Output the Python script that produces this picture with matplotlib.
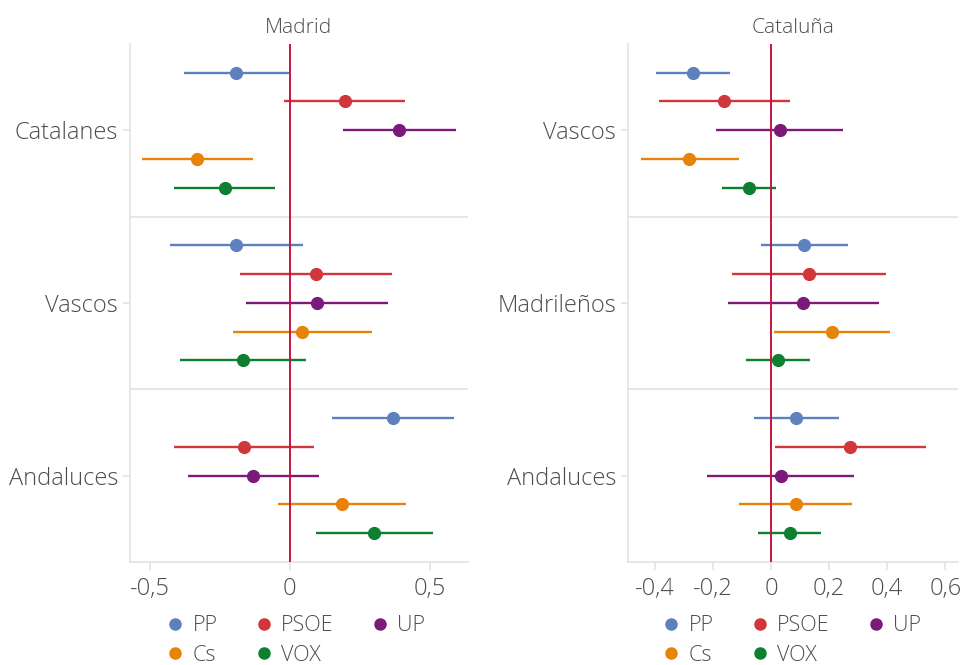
import numpy as np
import matplotlib.pyplot as plt
from matplotlib.lines import Line2D

plt.rcParams['font.family'] = ['Open Sans', 'DejaVu Sans']
plt.rcParams['font.weight'] = 'light'

parties = ['PP', 'PSOE', 'UP', 'Cs', 'VOX']
colors = ['#5f80bf', '#d0363a', '#7b1a7b', '#e8830a', '#0e7f30']

# Madrid panel: groups top to bottom
mad_groups = ['Catalanes', 'Vascos', 'Andaluces']
mad_est = [[-0.192, 0.196, 0.390, -0.331, -0.233],
           [-0.192, 0.093, 0.098, 0.044, -0.168],
           [0.369, -0.163, -0.131, 0.186, 0.302]]
mad_lo = [[-0.379, -0.020, 0.188, -0.527, -0.413],
          [-0.427, -0.179, -0.156, -0.202, -0.393],
          [0.151, -0.412, -0.363, -0.044, 0.094]]
mad_hi = [[-0.002, 0.412, 0.592, -0.131, -0.054],
          [0.046, 0.364, 0.351, 0.294, 0.058],
          [0.587, 0.087, 0.105, 0.414, 0.510]]

# Cataluña panel
cat_groups = ['Vascos', 'Madrileños', 'Andaluces']
cat_est = [[-0.270, -0.161, 0.030, -0.283, -0.077],
           [0.113, 0.130, 0.111, 0.209, 0.023],
           [0.087, 0.272, 0.033, 0.085, 0.064]]
cat_lo = [[-0.396, -0.387, -0.189, -0.449, -0.169],
          [-0.035, -0.136, -0.147, 0.010, -0.087],
          [-0.060, 0.014, -0.219, -0.109, -0.045]]
cat_hi = [[-0.142, 0.064, 0.247, -0.112, 0.017],
          [0.265, 0.396, 0.371, 0.409, 0.135],
          [0.233, 0.532, 0.287, 0.280, 0.173]]

text_col = '#4d4d4d'
grid_col = '#e3e3e3'


def draw_panel(ax, title, groups, est, lo, hi, xlim, xticks, xticklabels):
    for g in range(len(groups)):
        center = 6 * g + 3
        for i, p in enumerate(parties):
            y = center + (i - 2)
            ax.plot([lo[g][i], hi[g][i]], [y, y], color=colors[i], lw=1.7,
                    solid_capstyle='butt', zorder=2)
            ax.plot(est[g][i], y, 'o', color=colors[i], ms=8.5, zorder=3)
    for s in [6, 12]:
        ax.axhline(s, color=grid_col, lw=1.2, zorder=0)
    ax.axvline(0, color='#c8143f', lw=1.4, zorder=4)

    ax.set_ylim(18, 0)
    ax.set_xlim(*xlim)
    ax.set_yticks([6 * g + 3 for g in range(len(groups))])
    ax.set_yticklabels(groups)
    ax.set_xticks(xticks)
    ax.set_xticklabels(xticklabels)
    ax.tick_params(axis='both', colors=grid_col, labelcolor=text_col,
                   labelsize=17, length=5, width=1.2)
    ax.tick_params(axis='x', length=6, pad=5)
    for side in ['top', 'right']:
        ax.spines[side].set_visible(False)
    for side in ['left', 'bottom']:
        ax.spines[side].set_color(grid_col)
        ax.spines[side].set_linewidth(1.2)
    ax.set_title(title, color=text_col, fontsize=15, fontweight='light', pad=8)


fig = plt.figure(figsize=(9.69, 6.65), dpi=100)
ax1 = fig.add_axes([0.134, 0.155, 0.349, 0.779])
ax2 = fig.add_axes([0.648, 0.155, 0.341, 0.779])

draw_panel(ax1, 'Madrid', mad_groups, mad_est, mad_lo, mad_hi,
           (-0.571, 0.636), [-0.5, 0, 0.5], ['-0,5', '0', '0,5'])
draw_panel(ax2, 'Cataluña', cat_groups, cat_est, cat_lo, cat_hi,
           (-0.493, 0.645), [-0.4, -0.2, 0, 0.2, 0.4, 0.6],
           ['-0,4', '-0,2', '0', '0,2', '0,4', '0,6'])

# legend filled column by column, so order entries to read row by row
order = [0, 3, 1, 4, 2]
handles = [Line2D([], [], marker='o', ls='', color=colors[k], ms=8) for k in order]
labels = [parties[k] for k in order]
for ax, x0 in [(ax1, 0.172), (ax2, 0.684)]:
    fig.legend(handles, labels, loc='upper left', bbox_to_anchor=(x0, 0.075),
               ncol=3, frameon=False, fontsize=15.5, labelcolor=text_col,
               handletextpad=0.4, columnspacing=1.75, handlelength=0.8,
               labelspacing=0.4, borderpad=0, borderaxespad=0)

fig.savefig('out.png', dpi=100)
